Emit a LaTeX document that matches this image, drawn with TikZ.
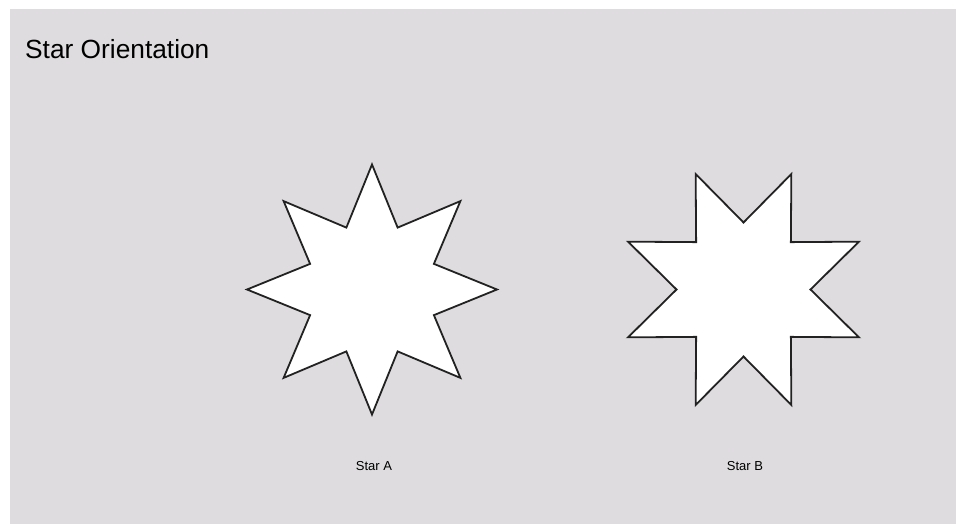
\documentclass[tikz,border=0pt]{standalone}
\usepackage{fontspec}
\setmainfont{Liberation Sans}
\definecolor{panelgray}{RGB}{222,220,222}
\definecolor{starline}{RGB}{34,34,34}
\begin{document}
\begin{tikzpicture}[
    x=1pt, y=-1pt,
    starshape/.style={draw=starline, fill=white, line width=1.8pt, line join=miter},
    title/.style={anchor=west, inner sep=0pt, font=\fontsize{26.3}{30}\selectfont},
    caption/.style={inner sep=0pt, font=\fontsize{13}{15}\selectfont},
]
\useasboundingbox (0,0) rectangle (968,524);
\fill[white] (0,0) rectangle (968,524);
\fill[panelgray] (10,9) rectangle (956,524);
\node[title] (head) at (25,49) {Star Orientation};
\coordinate (ca) at (372,289.5);
\coordinate (cb) at (743.5,289.5);
% star A: points straight up
\begin{scope}[shift={(ca)}]
\draw[starshape] plot[samples at={0,...,15}, variable=\k]
    ({90+22.5*\k}:{ifthenelse(mod(\k,2)==0,125,67)}) -- cycle;
\end{scope}
% star B: turned by half a point
\begin{scope}[shift={(cb)}]
\draw[starshape] plot[samples at={0,...,15}, variable=\k]
    ({112.5+22.5*\k}:{ifthenelse(mod(\k,2)==0,125,67)}) -- cycle;
\end{scope}
\node[caption] (capa) at (374,466) {Star A};
\node[caption] (capb) at (745,466) {Star B};
\end{tikzpicture}
\end{document}
